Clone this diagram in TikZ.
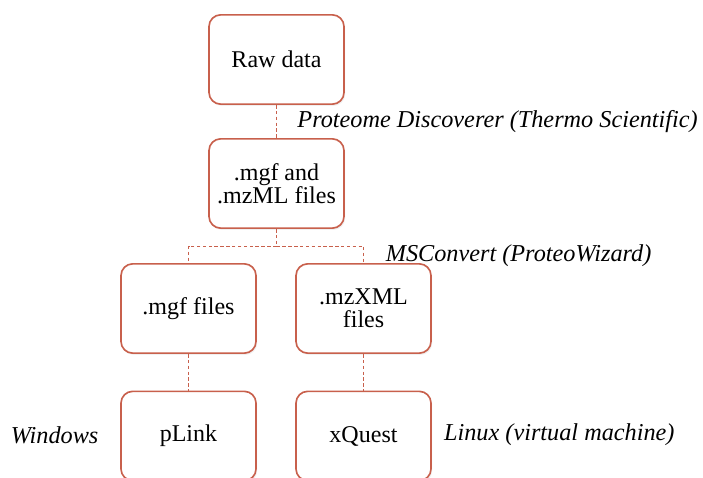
\documentclass[tikz,border=0pt]{standalone}
\usepackage{fontspec}
\setmainfont{Liberation Serif}
\usetikzlibrary{shadows}
\definecolor{boxred}{RGB}{200,96,76}

\begin{document}
\begin{tikzpicture}[
    box/.style={draw=boxred, line width=1.4pt, rounded corners=10pt, fill=white,
        minimum width=4.05cm, minimum height=2.68cm, align=center,
        font=\fontsize{20.5}{20}\selectfont,
        drop shadow={opacity=0.12, shadow xshift=1pt, shadow yshift=-1.5pt}},
    link/.style={draw=boxred, thin, densely dashed},
    tool/.style={anchor=west, font=\fontsize{20.7}{22}\selectfont\itshape}
]


\def\W{21.09}      % width of picture
\def\H{14.31}      % height of picture
\def\xL{5.655}     % left column
\def\xM{8.295}     % middle column
\def\xR{10.905}    % right column


\useasboundingbox (0,0) rectangle (\W,-\H);
\clip (0,0) rectangle (\W,-\H);

\node[box] (raw) at (\xM,-1.785) {Raw data};
\node[box] (mix) at (\xM,-5.505) {.mgf and\\.mzML files};

\node[box] (mgf) at (\xL,-9.255) {.mgf files};
\node[box] (mzxml) at (\xR,-9.255) {.mzXML\\files};

\node[box] (plink) at (\xL,-13.08) {pLink};
\node[box] (xquest) at (\xR,-13.08) {xQuest};

\coordinate (split) at (\xM,-7.38);

\begin{scope}[on background layer/.try]
\draw[link] (raw) -- (mix);
\draw[link] (mix) -- (split);
\draw[link] (split) -| (mgf);
\draw[link] (split) -| (mzxml);
\draw[link] (mgf) -- (plink);
\draw[link] (mzxml) -- (xquest);
\end{scope}

\node[tool] (pd) at (8.8,-3.66) {Proteome Discoverer (Thermo Scientific)};
\node[tool] (msc) at (11.45,-7.68) {MSConvert (ProteoWizard)};
\node[tool] (win) at (0.2,-13.05) {Windows};
\node[tool] (lin) at (13.2,-13.05) {Linux (virtual machine)};
\end{tikzpicture}
\end{document}
